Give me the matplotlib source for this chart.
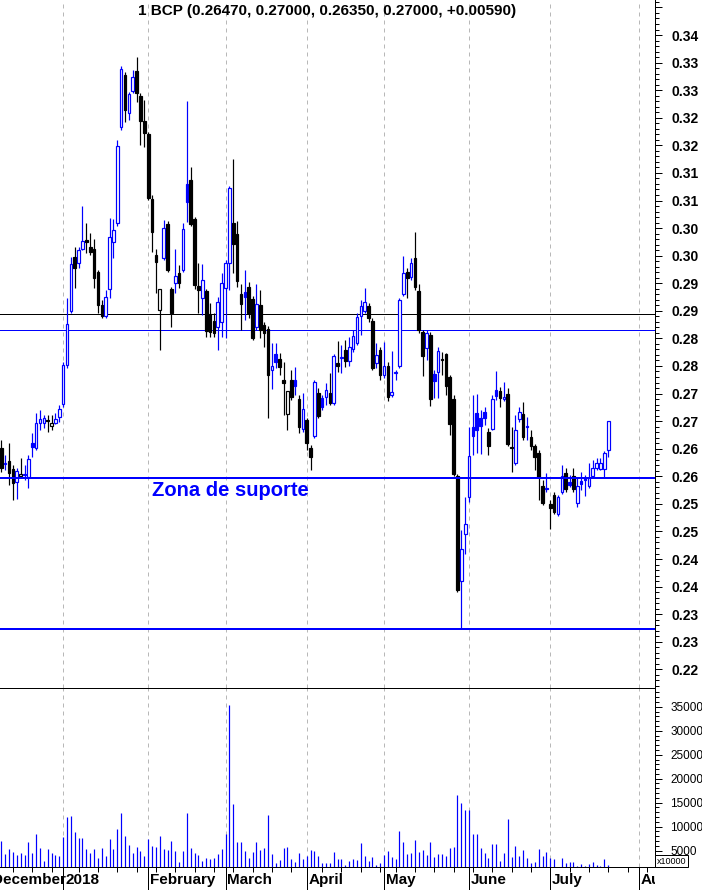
import math
import matplotlib
matplotlib.use('Agg')
import matplotlib.pyplot as plt
from matplotlib.patches import Rectangle
from matplotlib.ticker import FixedLocator, FuncFormatter
from matplotlib.transforms import Bbox, blended_transform_factory

plt.rcParams['font.family'] = ['Liberation Sans', 'DejaVu Sans']

# daily bars, 6 Dec 2017 -> 23 Jul 2018 (trading days only)
opens = [
    .2651, .2622, .2628, .2613, .2590, .2600, .2602, .2599, .2660, .2651,
    .2697, .2697, .2702, .2691, .2697, .2707, .2731, .2802, .2900, .2998,
    .2987, .3012, .3028, .3016, .3012, .2970, .2910, .2891, .2940, .3025,
    .3059, .3233, .3327, .3259, .3299, .3335, .3289, .3244, .3221, .3103,
    .3001, .2901, .2996, .3057, .2940, .2950, .2968, .2974, .3130, .3137,
    .3066, .2945, .2923, .2936, .2894, .2881, .2871, .2880, .2941, .2987,
    .3059, .3039, .2930, .2934, .2943, .2921, .2871, .2910, .2874, .2867,
    .2793, .2822, .2813, .2774, .2713, .2774, .2774, .2740, .2686, .2702,
    .2651, .2673, .2751, .2742, .2744, .2751, .2733, .2805, .2814, .2829,
    .2809, .2831, .2842, .2891, .2900, .2909, .2881, .2805, .2829, .2784,
    .2800, .2747, .2787, .2800, .2930, .2970, .2961, .2996, .2936, .2861,
    .2832, .2856, .2785, .2789, .2813, .2822, .2780, .2740, .2601, .2410,
    .2495, .2562, .2689, .2715, .2706, .2717, .2680, .2686, .2756, .2755,
    .2740, .2749, .2653, .2624, .2704, .2713, .2691, .2671, .2655, .2642,
    .2582, .2579, .2550, .2566, .2532, .2571, .2606, .2590, .2601, .2551,
    .2591, .2597, .2582, .2601, .2615, .2613, .2613, .2647]
highs = [
    .2666, .2639, .2660, .2620, .2615, .2633, .2620, .2638, .2678, .2715,
    .2720, .2711, .2711, .2711, .2715, .2729, .2807, .2923, .2998, .3016,
    .3016, .3090, .3059, .3041, .3030, .2974, .2920, .2938, .3068, .3066,
    .3210, .3344, .3333, .3297, .3337, .3360, .3295, .3282, .3224, .3110,
    .3012, .2939, .3065, .3063, .2943, .3012, .2983, .3059, .3280, .3161,
    .3070, .2987, .2985, .2940, .2914, .2896, .2925, .2968, .2992, .3126,
    .3175, .3063, .2949, .2974, .2952, .2927, .2949, .2938, .2880, .2872,
    .2842, .2842, .2824, .2807, .2755, .2793, .2798, .2747, .2751, .2706,
    .2657, .2774, .2760, .2747, .2769, .2787, .2822, .2845, .2838, .2847,
    .2853, .2865, .2896, .2920, .2941, .2914, .2887, .2842, .2834, .2843,
    .2807, .2827, .2793, .2923, .2999, .2978, .2996, .3043, .2949, .2865,
    .2865, .2861, .2793, .2834, .2825, .2824, .2784, .2747, .2604, .2503,
    .2562, .2689, .2747, .2749, .2720, .2726, .2688, .2747, .2791, .2762,
    .2771, .2760, .2689, .2711, .2726, .2735, .2707, .2684, .2658, .2648,
    .2593, .2606, .2557, .2571, .2566, .2620, .2615, .2602, .2615, .2599,
    .2608, .2602, .2624, .2629, .2633, .2633, .2646, .2700]
lows = [
    .2608, .2611, .2584, .2557, .2559, .2597, .2593, .2579, .2635, .2648,
    .2684, .2688, .2680, .2684, .2695, .2698, .2726, .2796, .2896, .2941,
    .2978, .3010, .3005, .3001, .2941, .2896, .2887, .2887, .2923, .2996,
    .3054, .3228, .3242, .3246, .3295, .3279, .3201, .3197, .3101, .3007,
    .2932, .2829, .2992, .2970, .2871, .2932, .2941, .2970, .3061, .3054,
    .2940, .2896, .2892, .2853, .2853, .2853, .2829, .2853, .2851, .2938,
    .2968, .2943, .2865, .2883, .2887, .2847, .2865, .2851, .2834, .2706,
    .2758, .2796, .2784, .2711, .2684, .2738, .2747, .2678, .2680, .2648,
    .2611, .2669, .2706, .2720, .2729, .2729, .2729, .2789, .2787, .2798,
    .2800, .2825, .2838, .2856, .2896, .2880, .2793, .2796, .2775, .2778,
    .2736, .2744, .2775, .2796, .2927, .2923, .2956, .2938, .2860, .2782,
    .2811, .2727, .2742, .2742, .2784, .2747, .2675, .2601, .2390, .2323,
    .2459, .2553, .2638, .2642, .2640, .2693, .2638, .2684, .2738, .2726,
    .2736, .2655, .2608, .2620, .2698, .2666, .2666, .2648, .2611, .2557,
    .2548, .2571, .2504, .2532, .2528, .2568, .2571, .2580, .2571, .2544,
    .2575, .2564, .2579, .2597, .2611, .2611, .2597, .2635]
closes = [
    .2615, .2624, .2606, .2588, .2610, .2604, .2605, .2631, .2653, .2697,
    .2704, .2706, .2700, .2697, .2704, .2722, .2802, .2876, .2985, .2978,
    .3010, .3027, .3025, .3007, .2959, .2910, .2891, .2925, .3034, .3046,
    .3199, .3338, .3264, .3293, .3324, .3295, .3244, .3222, .3105, .3043,
    .2988, .2939, .3050, .2974, .2896, .2963, .2950, .3048, .3097, .3057,
    .2947, .2938, .2956, .2863, .2861, .2859, .2916, .2950, .2987, .3123,
    .3021, .2954, .2912, .2925, .2896, .2851, .2912, .2865, .2860, .2784,
    .2800, .2807, .2798, .2769, .2755, .2744, .2764, .2689, .2722, .2660,
    .2635, .2771, .2709, .2726, .2756, .2733, .2818, .2800, .2816, .2809,
    .2834, .2854, .2889, .2909, .2916, .2887, .2796, .2820, .2784, .2800,
    .2744, .2753, .2789, .2920, .2968, .2959, .2987, .2943, .2865, .2818,
    .2860, .2740, .2773, .2827, .2811, .2764, .2695, .2604, .2394, .2468,
    .2513, .2637, .2673, .2684, .2691, .2706, .2655, .2740, .2745, .2742,
    .2744, .2658, .2651, .2684, .2717, .2671, .2689, .2655, .2635, .2599,
    .2551, .2577, .2543, .2535, .2562, .2601, .2577, .2585, .2577, .2582,
    .2586, .2593, .2597, .2615, .2624, .2625, .2642, .2700]
volumes = [
    7000, 4300, 5400, 4700, 4000, 4500, 4200, 6800, 4500, 8500,
    5600, 2900, 5400, 4500, 4100, 3900, 7900, 12000, 12200, 8900,
    7600, 7600, 5400, 4500, 5400, 3500, 5600, 3900, 7400, 5400,
    9500, 12900, 8100, 6200, 4500, 5800, 4900, 3900, 7400, 6000,
    5800, 8100, 5400, 5100, 7000, 4900, 2600, 4900, 12900, 5600,
    4500, 4100, 2900, 3500, 3300, 3500, 4300, 5400, 8500, 35400,
    14700, 6800, 6800, 4900, 3500, 4700, 6800, 5100, 5600, 12400,
    4300, 2400, 3100, 5600, 5800, 3300, 2600, 4500, 3300, 3900,
    5100, 4900, 3900, 2400, 2400, 2400, 4700, 3300, 3300, 2000,
    2900, 3300, 3100, 6600, 3900, 2900, 3700, 2000, 2400, 4100,
    4900, 3700, 3300, 9100, 6800, 4300, 4500, 7200, 4700, 5100,
    4100, 6800, 3700, 4300, 4300, 3900, 5600, 5800, 16600, 14900,
    13500, 13500, 8500, 8500, 5600, 4500, 3500, 6400, 6400, 2900,
    4500, 11600, 3700, 6000, 3900, 5100, 3500, 2400, 2600, 5400,
    3900, 4700, 3500, 3300, 1500, 3500, 2400, 2600, 2600, 1800,
    2200, 1800, 2200, 2600, 2000, 1800, 3300, 2000]

month_names = ['December', '2018', 'February', 'March', 'April', 'May', 'June', 'July', 'August']
month_starts = [-3, 16, 38, 58, 79, 99, 121, 142, 165]
week_starts = [3, 8, 13, 20, 25, 30, 35, 40, 45, 50, 55, 60, 65, 70, 75, 83, 88, 93, 98,
               102, 107, 112, 117, 122, 127, 132, 137, 147, 152, 157, 162, 167]

line_black = 0.2895
line_blue = 0.2865
support = 0.2597
support_low = 0.2323

title = '1 BCP (0.26470, 0.27000, 0.26350, 0.27000, +0.00590)'

assert len(opens) == len(highs) == len(lows) == len(closes) == len(volumes)

BLUE = '#0000ff'
PX = 72 / 100  # one pixel in points

fig = plt.figure(figsize=(7.02, 8.90), dpi=100)
ax = fig.add_axes([0, 1 - 688 / 890, 655 / 702, 688 / 890])
vax = fig.add_axes([0, 1 - 867 / 890, 655 / 702, 179 / 890], sharex=ax)

# candles: blue = close up vs previous close, hollow = close above open
w = 0.68
for i, (o, h, l, c) in enumerate(zip(opens, highs, lows, closes)):
    prev = closes[i - 1] if i > 0 else o
    col = BLUE if c >= prev else 'black'
    ax.vlines(i, l, h, color=col, lw=1.2 * PX, zorder=3)
    face = 'white' if c >= o else col
    ax.add_patch(Rectangle((i - w / 2, min(o, c)), w, max(abs(c - o), 0.00005),
                           facecolor=face, edgecolor=col, lw=1.2 * PX, zorder=4))

ax.axhline(line_black, color='black', lw=PX, zorder=2)
ax.axhline(line_blue, color=BLUE, lw=PX, zorder=2)
ax.axhline(support, color=BLUE, lw=2 * PX, zorder=5)
ax.axhline(support_low, color=BLUE, lw=2 * PX, zorder=5)
ax.text(39, 0.2574, 'Zona de suporte', color=BLUE, fontsize=14.5,
        fontweight='bold', va='center', ha='left', zorder=6)

vax.vlines(range(len(volumes)), 0, volumes, color=BLUE, lw=1.2 * PX)

for a in (ax, vax):
    for s in month_starts[1:]:
        a.axvline(s, color='#b8b8b8', lw=PX, ls=(0, (4, 4)), zorder=1)
    a.spines['left'].set_visible(False)
    a.spines['top'].set_visible(False)
    a.spines['right'].set_linewidth(PX)
    a.spines['bottom'].set_linewidth(PX)
vax.spines['top'].set_visible(True)
vax.spines['top'].set_linewidth(PX)

ax.set_xlim(-0.34, 169.1)
ax.set_ylim(0.22162, 0.34635)
vax.set_ylim(1604, 38896)

# price axis on the right, labels truncated to 2 decimals like the source
ptick = [round(0.225 + 0.005 * k, 3) for k in range(25)]
ax.yaxis.tick_right()
ax.yaxis.set_major_locator(FixedLocator(ptick))
ax.yaxis.set_minor_locator(FixedLocator([round(0.222 + 0.001 * k, 3) for k in range(125)]))
ax.yaxis.set_major_formatter(FuncFormatter(
    lambda v, p: '' if v > 0.3401 else '%.2f' % (math.floor(v * 100 + 1e-6) / 100)))
ax.tick_params(axis='y', which='major', length=5, width=PX, pad=7, labelsize=10)
ax.tick_params(axis='y', which='minor', length=3, width=PX)
for t in ax.get_yticklabels():
    t.set_fontweight('bold')
ax.tick_params(axis='x', which='both', bottom=False, labelbottom=False)

vax.yaxis.tick_right()
vax.yaxis.set_major_locator(FixedLocator(range(5000, 35001, 5000)))
vax.yaxis.set_minor_locator(FixedLocator(range(2000, 38001, 1000)))
vax.yaxis.set_major_formatter(FuncFormatter(lambda v, p: '%d' % v))
vax.tick_params(axis='y', which='major', length=5, width=PX, pad=6, labelsize=8.5)
vax.tick_params(axis='y', which='minor', length=3, width=PX)

vax.xaxis.set_major_locator(FixedLocator(month_starts))
vax.xaxis.set_minor_locator(FixedLocator(week_starts))
vax.tick_params(axis='x', which='major', length=23 * PX, width=PX, labelbottom=False)
vax.tick_params(axis='x', which='minor', length=5 * PX, width=PX)

trans = blended_transform_factory(vax.transData, fig.transFigure)
clip = Bbox.from_extents(0, 0, 655, 890)
for name, s in zip(month_names, month_starts):
    t = vax.text(s + 0.5, 1 - 880 / 890, name, transform=trans, fontsize=11,
                 fontweight='bold', ha='left', va='center', clip_on=True)
    t.set_clip_box(clip)

fig.text(657 / 702, 1 - 861 / 890, 'x10000', fontsize=6.5, ha='left', va='center',
         bbox=dict(facecolor='white', edgecolor='black', lw=PX, pad=1.2))
fig.text(327 / 702, 1 - 11 / 890, title, ha='center', va='center',
         fontsize=11, fontweight='bold')

fig.savefig('out.png', dpi=100)
